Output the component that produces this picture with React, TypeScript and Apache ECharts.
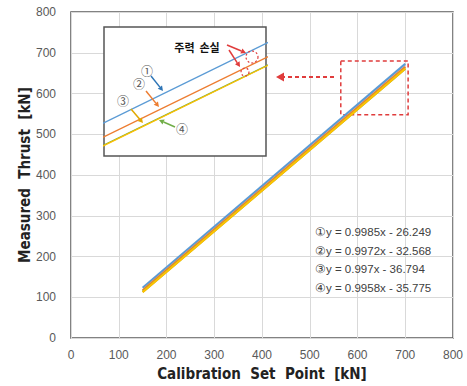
import React, { useEffect, useRef } from "react";
import * as echarts from "echarts";

// Trend lines: endpoints (x = 150 and x = 700)
const xEnds = [150, 700];
const line1 = [123.5, 672.7];
const line2 = [117.0, 665.5];
const line3 = [112.8, 661.1];
const line4 = [113.6, 661.3];
const seriesNames = ["①", "②", "③", "④"];
const seriesColors = ["#5B9BD5", "#ED7D31", "#FFC000", "#70AD47"];
const equations = [
  "①y = 0.9985x - 26.249",
  "②y = 0.9972x - 32.568",
  "③y = 0.997x - 36.794",
  "④y = 0.9958x - 35.775",
];
// zoom region marked in main chart
const zoomBox = { x: [565, 706], y: [548, 680] };
// inset window (data range)
const insetX = [640, 680];
const insetY = [596, 661];

const NARROW = "'DejaVu Sans Condensed', 'Liberation Sans Narrow', 'Arial Narrow', sans-serif";

function arrow(x1: number, y1: number, x2: number, y2: number, color: string, w = 1.5, head = 5, dashed = false) {
  const ang = Math.atan2(y2 - y1, x2 - x1);
  const bx = x2 - head * Math.cos(ang);
  const by = y2 - head * Math.sin(ang);
  const px = (head * 0.55) * Math.sin(ang);
  const py = -(head * 0.55) * Math.cos(ang);
  return [
    {
      type: "line",
      shape: { x1, y1, x2: bx, y2: by },
      style: { stroke: color, lineWidth: w, lineDash: dashed ? [4, 3] : null },
      z: 100,
    },
    {
      type: "polygon",
      shape: { points: [[x2, y2], [bx + px, by + py], [bx - px, by - py]] },
      style: { fill: color },
      z: 100,
    },
  ];
}

function circledNum(ch: string, x: number, y: number) {
  return {
    type: "text",
    x,
    y,
    z: 100,
    style: {
      text: ch,
      fill: "#555",
      font: "12px 'Noto Sans CJK KR', sans-serif",
      align: "center",
      verticalAlign: "middle",
    },
  };
}

export default function App() {
  const ref = useRef<HTMLDivElement>(null);
  useEffect(() => {
    if (!ref.current) return;
    const chart = echarts.init(ref.current, undefined, { renderer: "svg" });
    const lines = [line1, line2, line4, line3];
    const order = [0, 1, 3, 2];
    const mkData = (ys: number[]) => xEnds.map((x, i) => [x, ys[i]]);

    const mainSeries: any[] = order.map((idx, k) => ({
      name: seriesNames[idx],
      type: "line",
      xAxisIndex: 0,
      yAxisIndex: 0,
      data: mkData(lines[k]),
      showSymbol: false,
      lineStyle: { color: seriesColors[idx], width: 2.2 },
      z: 2 + k,
      ...(k === 0
        ? {
            markArea: {
              silent: true,
              itemStyle: {
                color: "rgba(0,0,0,0)",
                borderColor: "#E03C3C",
                borderWidth: 1.5,
                borderType: [4, 3],
              },
              data: [[{ coord: [zoomBox.x[0], zoomBox.y[1]] }, { coord: [zoomBox.x[1], zoomBox.y[0]] }]],
            },
          }
        : {}),
    }));
    const insetSeries: any[] = order.map((idx, k) => ({
      name: seriesNames[idx] + "-inset",
      type: "line",
      xAxisIndex: 1,
      yAxisIndex: 1,
      data: mkData(lines[k]),
      showSymbol: false,
      clip: true,
      lineStyle: { color: seriesColors[idx], width: 1.3 },
      z: 20 + k,
    }));

    const graphics: any[] = [];
    graphics.push(...arrow(334, 77, 276, 77, "#E03C3C", 2, 8, true));
    graphics.push({
      type: "text",
      x: 197,
      y: 47,
      z: 100,
      style: {
        text: "주력  손실",
        fill: "#111",
        font: "bold 11px 'Noto Sans CJK KR', sans-serif",
        align: "center",
        verticalAlign: "middle",
      },
    });
    graphics.push(...arrow(227, 45, 246, 53, "#E03C3C", 1.5, 5));
    graphics.push(...arrow(229, 50, 240, 67, "#E03C3C", 1.5, 5));
    graphics.push({
      type: "circle",
      shape: { cx: 252, cy: 57, r: 6 },
      style: { fill: "none", stroke: "#E03C3C", lineWidth: 1.2, lineDash: [2, 2] },
      z: 100,
    });
    graphics.push({
      type: "circle",
      shape: { cx: 245, cy: 72, r: 4 },
      style: { fill: "none", stroke: "#E03C3C", lineWidth: 1.2, lineDash: [2, 2] },
      z: 100,
    });
    graphics.push(circledNum("①", 147, 70));
    graphics.push(...arrow(151, 76, 163, 91, "#2E75B6", 1.5, 5));
    graphics.push(circledNum("②", 139, 83));
    graphics.push(...arrow(146, 91, 159, 107, "#ED7D31", 1.5, 5));
    graphics.push(circledNum("③", 123, 100));
    graphics.push(...arrow(131, 109, 143, 123, "#E0A800", 1.5, 5));
    graphics.push(circledNum("④", 182, 128));
    graphics.push(...arrow(175, 127, 159, 120, "#70AD47", 1.5, 5));
    equations.forEach((t, i) => {
      graphics.push({
        type: "text",
        x: 315,
        y: 232 + i * 18.7,
        z: 100,
        style: {
          text: t,
          fill: "#404040",
          font: "11.5px 'Liberation Sans', Arial, sans-serif",
          verticalAlign: "middle",
        },
      });
    });

    chart.setOption({
      animation: false,
      backgroundColor: "#fff",
      grid: [
        { left: 71, top: 12, right: 14, bottom: 46, show: true, borderColor: "#595959", borderWidth: 1.5, z: 0 },
        {
          left: 104,
          top: 27,
          width: 162,
          height: 129,
          show: true,
          backgroundColor: "#fff",
          borderColor: "#555",
          borderWidth: 1.5,
          z: 5,
        },
      ],
      xAxis: [
        {
          type: "value",
          gridIndex: 0,
          min: 0,
          max: 800,
          interval: 100,
          name: "Calibration  Set  Point  [kN]",
          nameLocation: "middle",
          nameGap: 27,
          nameTextStyle: { fontFamily: NARROW, fontWeight: "bold", fontSize: 15, color: "#222" },
          axisLine: { show: false },
          axisTick: { show: false },
          axisLabel: { color: "#595959", fontSize: 12, margin: 11, fontFamily: "'Liberation Sans', Arial, sans-serif" },
          splitLine: { show: true, lineStyle: { color: "#D9D9D9", width: 1 } },
        },
        {
          type: "value",
          gridIndex: 1,
          min: insetX[0],
          max: insetX[1],
          show: false,
          splitLine: { show: false },
          z: 5,
        },
      ],
      yAxis: [
        {
          type: "value",
          gridIndex: 0,
          min: 0,
          max: 800,
          interval: 100,
          name: "Measured  Thrust  [kN]",
          nameLocation: "middle",
          nameGap: 39,
          nameMoveOverlap: false,
          nameTextStyle: { fontFamily: NARROW, fontWeight: "bold", fontSize: 15, color: "#222" },
          axisLine: { show: false },
          axisTick: { show: false },
          axisLabel: { color: "#595959", fontSize: 12, margin: 15, fontFamily: "'Liberation Sans', Arial, sans-serif" },
          splitLine: { show: true, lineStyle: { color: "#D9D9D9", width: 1 } },
        },
        {
          type: "value",
          gridIndex: 1,
          min: insetY[0],
          max: insetY[1],
          show: false,
          splitLine: { show: false },
          z: 5,
        },
      ],
      series: [...mainSeries, ...insetSeries],
      graphic: graphics,
    });
    return () => chart.dispose();
  }, []);
  return (
    <div
      ref={ref}
      style={{ position: "fixed", left: 0, top: 0, width: 467, height: 386 }}
    />
  );
}
